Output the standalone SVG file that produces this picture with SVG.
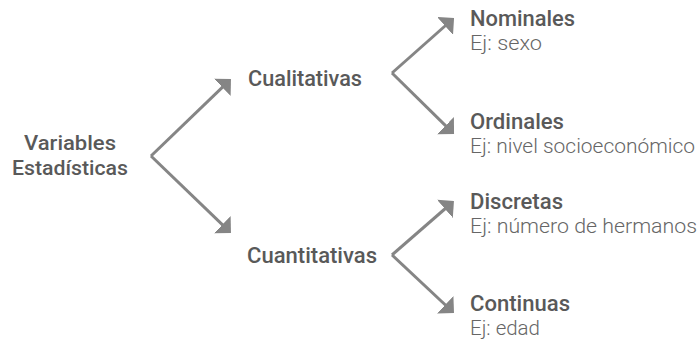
<svg xmlns="http://www.w3.org/2000/svg" width="700" height="353" viewBox="0 0 700 353">
  <defs>
    <!-- right-angled arrowhead, tip 3px beyond the line end -->
    <marker id="arrow" viewBox="0 0 12 24" refX="9" refY="12" markerWidth="12" markerHeight="24" markerUnits="userSpaceOnUse" orient="auto">
      <path d="M0,0 L12,12 L0,24 Z" fill="#858585"/>
    </marker>
    <style>
      .edge { fill: none; stroke: #858585; stroke-width: 3; marker-end: url(#arrow); }
      .title { font-family: Roboto, "Liberation Sans", sans-serif; font-size: 22px; font-weight: 500; fill: #595959; }
      .root { font-size: 21px; }
      .note { font-family: Roboto, "Liberation Sans", sans-serif; font-size: 21px; font-weight: 300; fill: #666666; }
    </style>
  </defs>
  <rect width="700" height="353" fill="#ffffff"/>

  <g id="connectors">
    <path class="edge" d="M151,156 L228.8,81.1"/>
    <path class="edge" d="M151,156 L228.8,230.9"/>
    <path class="edge" d="M392,73 L451.8,20"/>
    <path class="edge" d="M392,73 L451.9,131.9"/>
    <path class="edge" d="M392,255 L451.7,203"/>
    <path class="edge" d="M392,255 L451.8,311"/>
  </g>

  <g id="variables-estadisticas">
    <text class="title root" x="70" y="150" text-anchor="middle" textLength="92" lengthAdjust="spacingAndGlyphs">Variables</text>
    <text class="title root" x="70" y="175" text-anchor="middle" textLength="116" lengthAdjust="spacingAndGlyphs">Estadísticas</text>
  </g>

  <g id="cualitativas">
    <text class="title" x="248" y="86" textLength="114" lengthAdjust="spacingAndGlyphs">Cualitativas</text>
  </g>

  <g id="cuantitativas">
    <text class="title" x="247" y="263" textLength="130" lengthAdjust="spacingAndGlyphs">Cuantitativas</text>
  </g>

  <g id="nominales">
    <text class="title" x="470" y="26" textLength="105" lengthAdjust="spacingAndGlyphs">Nominales</text>
    <text class="note" x="470" y="50" textLength="72" lengthAdjust="spacingAndGlyphs">Ej: sexo</text>
  </g>

  <g id="ordinales">
    <text class="title" x="470" y="129" textLength="94" lengthAdjust="spacingAndGlyphs">Ordinales</text>
    <text class="note" x="470" y="153" textLength="225" lengthAdjust="spacingAndGlyphs">Ej: nivel socioeconómico</text>
  </g>

  <g id="discretas">
    <text class="title" x="470" y="209" textLength="93" lengthAdjust="spacingAndGlyphs">Discretas</text>
    <text class="note" x="470" y="233" textLength="227" lengthAdjust="spacingAndGlyphs">Ej: número de hermanos</text>
  </g>

  <g id="continuas">
    <text class="title" x="470" y="311" textLength="100" lengthAdjust="spacingAndGlyphs">Continuas</text>
    <text class="note" x="470" y="335" textLength="70" lengthAdjust="spacingAndGlyphs">Ej: edad</text>
  </g>
</svg>
